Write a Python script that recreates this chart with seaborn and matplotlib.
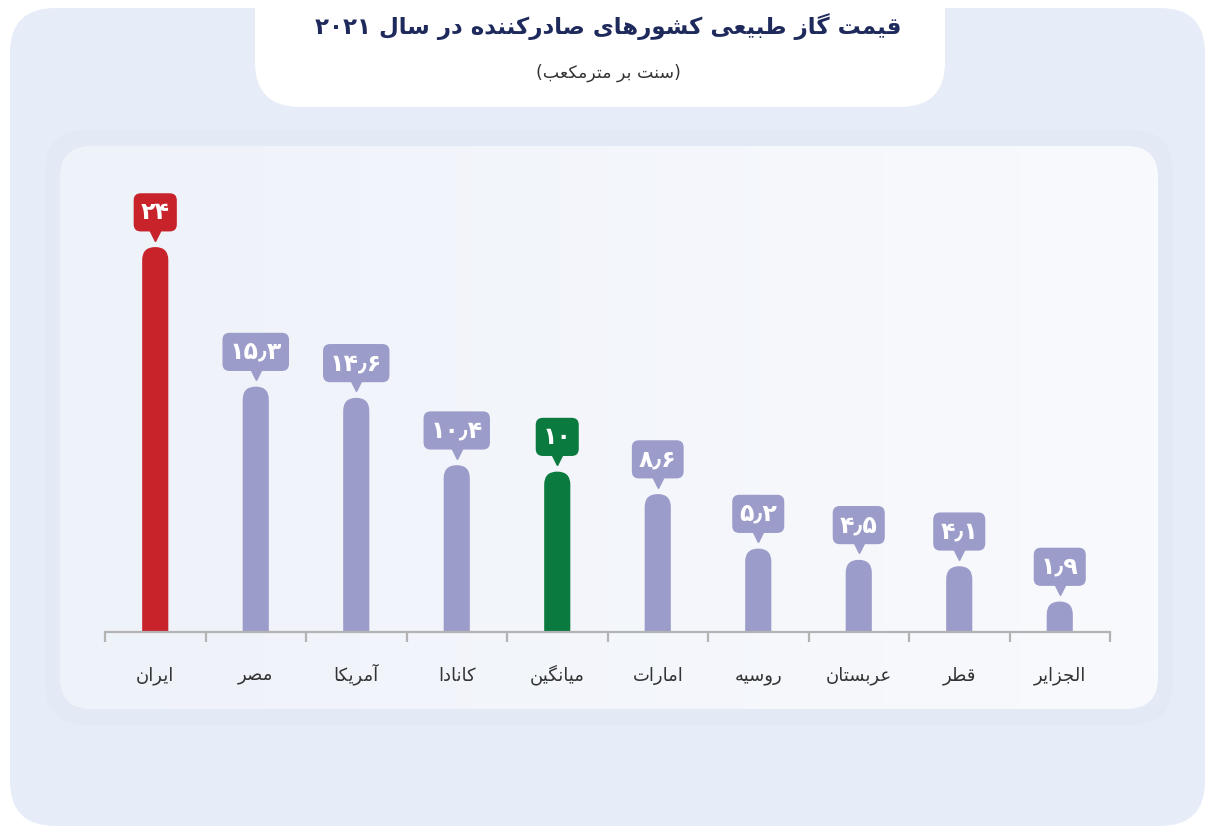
import re
import numpy as np
import matplotlib
matplotlib.use("Agg")
import matplotlib.pyplot as plt
import matplotlib.transforms as mtransforms
from matplotlib.patches import FancyBboxPatch
from matplotlib.colors import LinearSegmentedColormap
import seaborn as sns

# data
countries = ["ایران", "مصر", "آمریکا", "کانادا", "میانگین",
             "امارات", "روسیه", "عربستان", "قطر", "الجزایر"]
prices = [24, 15.3, 14.6, 10.4, 10, 8.6, 5.2, 4.5, 4.1, 1.9]
bar_colors = ["#c8222b", "#9c9cca", "#9c9cca", "#9c9cca", "#0b7a3e",
              "#9c9cca", "#9c9cca", "#9c9cca", "#9c9cca", "#9c9cca"]
title = "قیمت گاز طبیعی کشورهای صادرکننده در سال ۲۰۲۱"
subtitle = "(سنت بر مترمکعب)"

# matplotlib has no arabic shaping, so map letters to presentation forms
FORMS = {
    "ا": ("\uFE8D", "\uFE8E", None, None),
    "آ": ("\uFE81", "\uFE82", None, None),
    "ب": ("\uFE8F", "\uFE90", "\uFE91", "\uFE92"),
    "ت": ("\uFE95", "\uFE96", "\uFE97", "\uFE98"),
    "ج": ("\uFE9D", "\uFE9E", "\uFE9F", "\uFEA0"),
    "د": ("\uFEA9", "\uFEAA", None, None),
    "ر": ("\uFEAD", "\uFEAE", None, None),
    "ز": ("\uFEAF", "\uFEB0", None, None),
    "س": ("\uFEB1", "\uFEB2", "\uFEB3", "\uFEB4"),
    "ش": ("\uFEB5", "\uFEB6", "\uFEB7", "\uFEB8"),
    "ص": ("\uFEB9", "\uFEBA", "\uFEBB", "\uFEBC"),
    "ط": ("\uFEC1", "\uFEC2", "\uFEC3", "\uFEC4"),
    "ع": ("\uFEC9", "\uFECA", "\uFECB", "\uFECC"),
    "ق": ("\uFED5", "\uFED6", "\uFED7", "\uFED8"),
    "ل": ("\uFEDD", "\uFEDE", "\uFEDF", "\uFEE0"),
    "م": ("\uFEE1", "\uFEE2", "\uFEE3", "\uFEE4"),
    "ن": ("\uFEE5", "\uFEE6", "\uFEE7", "\uFEE8"),
    "ه": ("\uFEE9", "\uFEEA", "\uFEEB", "\uFEEC"),
    "و": ("\uFEED", "\uFEEE", None, None),
    "ک": ("\uFB8E", "\uFB8F", "\uFB90", "\uFB91"),
    "گ": ("\uFB92", "\uFB93", "\uFB94", "\uFB95"),
    "ی": ("\uFBFC", "\uFBFD", "\uFBFE", "\uFBFF"),
}


def fa(text):
    out = []
    for i, ch in enumerate(text):
        if ch not in FORMS:
            out.append(ch)
            continue
        prev = text[i - 1] if i > 0 else ""
        nxt = text[i + 1] if i + 1 < len(text) else ""
        iso, fin, ini, med = FORMS[ch]
        jp = prev in FORMS and FORMS[prev][2] is not None
        jn = nxt in FORMS and ini is not None
        if jp and jn:
            out.append(med)
        elif jp:
            out.append(fin)
        elif jn:
            out.append(ini)
        else:
            out.append(iso)
    s = "".join(out)[::-1]
    s = re.sub(r"[۰-۹٫]+", lambda m: m.group(0)[::-1], s)
    return s.translate(str.maketrans("()", ")("))


def fa_num(v):
    return f"{v:g}".translate(str.maketrans("0123456789.", "۰۱۲۳۴۵۶۷۸۹٫"))


sns.set_style("white")
plt.rcParams["font.family"] = ["DejaVu Sans"]

W, H = 1217, 833
fig = plt.figure(figsize=(W / 100, H / 100), dpi=100)
fig.patch.set_facecolor("white")

# background in pixel coords
bg = fig.add_axes([0, 0, 1, 1], zorder=0)
bg.set_xlim(0, W)
bg.set_ylim(H, 0)
bg.axis("off")


def rbox(x0, y0, x1, y1, r, color):
    p = FancyBboxPatch((x0 + r, y0 + r), x1 - x0 - 2 * r, y1 - y0 - 2 * r,
                       boxstyle=f"round,pad={r}", fc=color, ec="none")
    bg.add_patch(p)
    return p


rbox(10, 8, 1205, 826, 45, "#e7edf8")
rbox(255, -80, 945, 107, 45, "white")
rbox(45, 130, 1173, 725, 42, "#e3eaf6")
panel = rbox(60, 146, 1158, 709, 32, "#f4f6fb")
grad = LinearSegmentedColormap.from_list("g", ["#eef2f9", "#f9fafd"])
im = bg.imshow(np.linspace(0, 1, 256)[None, :], cmap=grad, aspect="auto",
               extent=(60, 1158, 709, 146), zorder=1.5)
im.set_clip_path(panel)
bg.set_xlim(0, W)
bg.set_ylim(H, 0)

bg.text(W / 2, 27, fa(title), ha="center", va="center", fontsize=16.5,
        fontweight="bold", color="#1f2a5c")
bg.text(W / 2, 73, fa(subtitle), ha="center", va="center", fontsize=12.5,
        color="#333333")

# main chart
ax_l, ax_r, ax_t, ax_b = 105, 1110, 215, 632
ax = fig.add_axes([ax_l / W, 1 - ax_b / H, (ax_r - ax_l) / W, (ax_b - ax_t) / H], zorder=1)
ax.patch.set_alpha(0)
ymax = 26

sns.barplot(x=countries, y=prices, hue=countries, palette=bar_colors,
            legend=False, width=0.26, ax=ax, saturation=1)
ax.set_xlim(-0.5, len(countries) - 0.5)
ax.set_ylim(0, ymax)

# rounded tops
aspect = ((ax_r - ax_l) / len(countries)) / ((ax_b - ax_t) / ymax)
for p in list(ax.patches):
    x, w, h = p.get_x(), p.get_width(), p.get_height()
    c = p.get_facecolor()
    p.remove()
    r = w / 2
    ax.add_patch(FancyBboxPatch((x, -r * aspect), w, h + r * aspect,
                                boxstyle=f"round,pad=0,rounding_size={r}",
                                mutation_aspect=aspect, fc=c, ec="none"))

# value callouts
tip = mtransforms.offset_copy(ax.transData, fig=fig, y=9, units="points")
for i, (v, c) in enumerate(zip(prices, bar_colors)):
    ax.annotate(fa_num(v), xy=(i, v), xytext=(0, 25), textcoords="offset points",
                ha="center", va="center", fontsize=17, fontweight="bold", color="white",
                bbox=dict(boxstyle="round,pad=0.3,rounding_size=0.3", fc=c, ec="none"),
                annotation_clip=False)
    ax.plot(i, v, marker="v", ms=8, color=c, transform=tip, clip_on=False)

for s in ["left", "right", "top"]:
    ax.spines[s].set_visible(False)
ax.spines["bottom"].set_color("#b3b3b3")
ax.spines["bottom"].set_linewidth(1.6)
ax.set_yticks([])
ax.set_xticks(range(len(countries)))
ax.set_xticklabels([])
ax.set_xticks([i - 0.5 for i in range(len(countries) + 1)], minor=True)
ax.tick_params(axis="x", which="major", length=0)
ax.tick_params(axis="x", which="minor", bottom=True, length=7.5, width=1.6,
               color="#b3b3b3", direction="out")
ax.set_xlabel("")
ax.set_ylabel("")

# category names on a common baseline
lab = mtransforms.offset_copy(ax.get_xaxis_transform(), fig=fig, y=-35, units="points")
for i, c in enumerate(countries):
    ax.text(i, 0, fa(c), transform=lab, ha="center", va="baseline",
            fontsize=13, color="#333333")

fig.savefig("out.png", dpi=100)
